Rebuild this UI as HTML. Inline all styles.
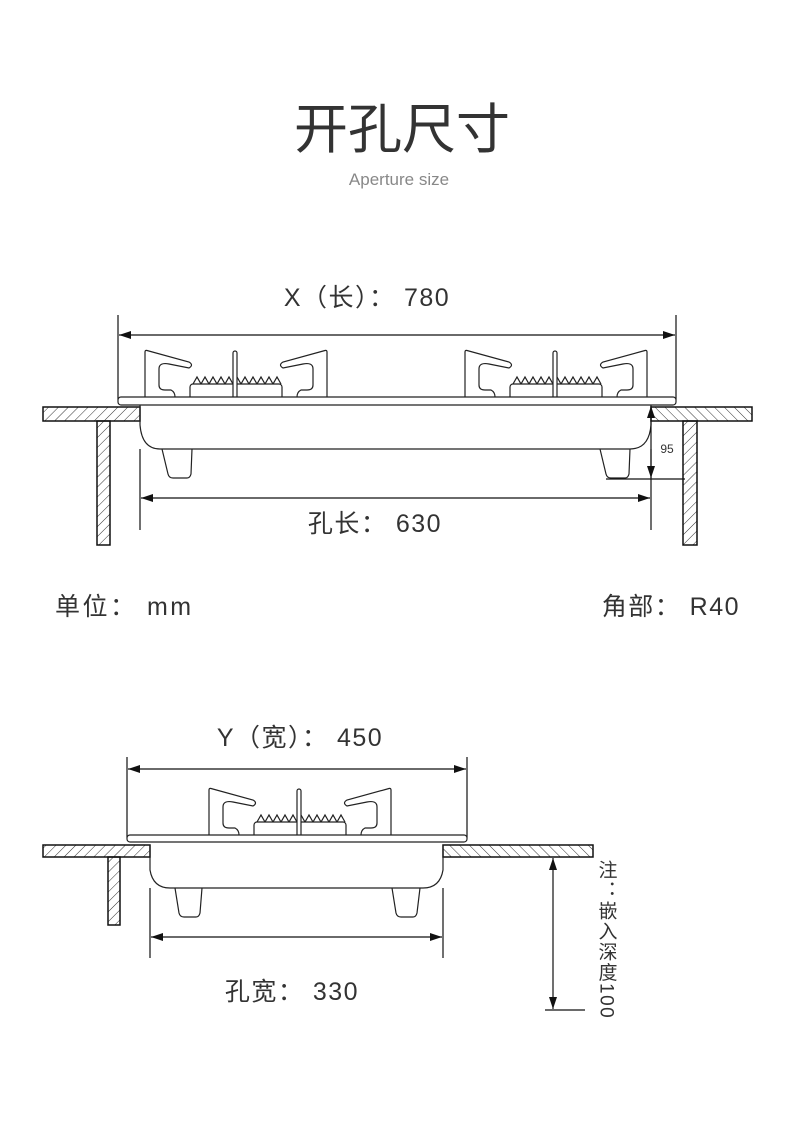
<!DOCTYPE html>
<html><head><meta charset="utf-8"><style>
body{margin:0;background:#fff;}
svg{display:block}
text{font-family:"Liberation Sans","Noto Sans CJK SC",sans-serif;fill:#333}
.t{letter-spacing:1.5px}
</style></head><body>
<svg width="790" height="1137" viewBox="0 0 790 1137" xmlns="http://www.w3.org/2000/svg">
<defs>
<pattern id="h1" width="7" height="7" patternUnits="userSpaceOnUse" patternTransform="rotate(45)"><line x1="0" y1="0" x2="0" y2="7" stroke="#333" stroke-width="1"/></pattern>
<pattern id="h2" width="7" height="7" patternUnits="userSpaceOnUse" patternTransform="rotate(-45)"><line x1="0" y1="0" x2="0" y2="7" stroke="#333" stroke-width="1"/></pattern>
<marker id="a" markerWidth="12" markerHeight="8" refX="12" refY="4" orient="auto" markerUnits="userSpaceOnUse"><path d="M0,0 L12,4 L0,8 Z" fill="#111"/></marker>
<marker id="as" markerWidth="12" markerHeight="8" refX="0" refY="4" orient="auto" markerUnits="userSpaceOnUse"><path d="M12,0 L0,4 L12,8 Z" fill="#111"/></marker>
<g id="burner" fill="none" stroke="#222" stroke-width="1.2">
<path d="M-90,0 L-90,-45 Q-90,-47 -88,-46.5 L-46,-35 Q-41,-32 -46,-29 L-66,-33 Q-76,-35 -76,-28 L-76,-12 Q-76,-7 -70,-7 L-64,-7 Q-60,-5 -60,0"/>
<path d="M92,0 L92,-45 Q92,-47 90,-46.5 L48,-35 Q43,-32 48,-29 L68,-33 Q78,-35 78,-28 L78,-12 Q78,-7 72,-7 L66,-7 Q62,-5 62,0"/>
<path d="M-42,-13 l4,-7 l4,7 l4,-7 l4,7 l4,-7 l4,7 l4,-7 l4,7 l4,-7 l4,7 l4,-7 l4,7 l4,-7 l4,7 l4,-7 l4,7 l4,-7 l4,7 l4,-7 l4,7 l4,-7 l4,7" />
<rect x="-45" y="-13" width="92" height="18" rx="3" fill="#fff"/>
<rect x="-2" y="-46" width="4" height="50" rx="2" fill="#fff"/>
</g>
</defs>

<text x="402" y="148" font-size="54" text-anchor="middle" fill="#222">开孔尺寸</text>
<text x="399" y="185" font-size="17" text-anchor="middle" style="fill:#888">Aperture size</text>

<!-- TOP DIAGRAM -->
<text class="t" x="367" y="306" font-size="25" text-anchor="middle">X（长）： 780</text>
<g stroke="#111" stroke-width="1.2" fill="none">
<line x1="118" y1="315" x2="118" y2="400"/>
<line x1="676" y1="315" x2="676" y2="400"/>
<line x1="119" y1="335" x2="675" y2="335" marker-end="url(#a)" marker-start="url(#as)"/>
</g>
<use href="#burner" x="235" y="397"/>
<use href="#burner" x="555" y="397"/>
<rect x="118" y="397" width="558" height="8" rx="3" fill="#fff" stroke="#222" stroke-width="1.2"/>
<rect x="43" y="407" width="97" height="14" fill="url(#h1)" stroke="#111" stroke-width="1.5"/>
<rect x="651" y="407" width="101" height="14" fill="url(#h2)" stroke="#111" stroke-width="1.5"/>
<rect x="97" y="421" width="13" height="124" fill="url(#h1)" stroke="#111" stroke-width="1.5"/>
<rect x="683" y="421" width="14" height="124" fill="url(#h1)" stroke="#111" stroke-width="1.5"/>
<g stroke="#222" stroke-width="1.2" fill="none">
<path d="M140,405 L140,425 Q142,449 160,449 L630,449 Q649,449 651,425 L651,405"/>
<path d="M162,449 L168,474 Q169,478 173,478 L187,478 Q190,478 191,474 L192,449"/>
<path d="M600,449 L606,474 Q607,478 611,478 L625,478 Q628,478 629,474 L630,449"/>
<line x1="140" y1="449" x2="140" y2="530" stroke="#111"/>
<line x1="651" y1="449" x2="651" y2="530" stroke="#111"/>
<line x1="141" y1="498" x2="650" y2="498" stroke="#111" marker-end="url(#a)" marker-start="url(#as)"/>
<line x1="651" y1="406" x2="651" y2="478" stroke="#111" marker-end="url(#a)" marker-start="url(#as)"/>
<line x1="606" y1="479" x2="685" y2="479" stroke="#111"/>
</g>
<text x="667" y="453" font-size="12" text-anchor="middle">95</text>
<text class="t" x="375" y="532" font-size="25" text-anchor="middle">孔长： 630</text>

<text x="55" y="615" font-size="25" style="letter-spacing:2.5px">单位： mm</text>
<text class="t" x="740" y="615" font-size="25" text-anchor="end">角部： R40</text>

<!-- BOTTOM DIAGRAM -->
<text class="t" x="300" y="746" font-size="25" text-anchor="middle">Y（宽）： 450</text>
<g stroke="#111" stroke-width="1.2" fill="none">
<line x1="127" y1="757" x2="127" y2="838"/>
<line x1="467" y1="757" x2="467" y2="838"/>
<line x1="128" y1="769" x2="466" y2="769" marker-end="url(#a)" marker-start="url(#as)"/>
</g>
<use href="#burner" x="299" y="835"/>
<rect x="127" y="835" width="340" height="7" rx="3" fill="#fff" stroke="#222" stroke-width="1.2"/>
<rect x="43" y="845" width="107" height="12" fill="url(#h1)" stroke="#111" stroke-width="1.5"/>
<rect x="443" y="845" width="150" height="12" fill="url(#h2)" stroke="#111" stroke-width="1.5"/>
<rect x="108" y="857" width="12" height="68" fill="url(#h1)" stroke="#111" stroke-width="1.5"/>
<g stroke="#222" stroke-width="1.2" fill="none">
<path d="M150,845 L150,870 Q153,888 170,888 L423,888 Q440,888 443,870 L443,845"/>
<path d="M175,888 L179,913 Q180,917 184,917 L196,917 Q199,917 200,913 L202,888"/>
<path d="M392,888 L396,913 Q397,917 401,917 L413,917 Q416,917 417,913 L420,888"/>
<line x1="150" y1="888" x2="150" y2="958" stroke="#111"/>
<line x1="443" y1="888" x2="443" y2="958" stroke="#111"/>
<line x1="151" y1="937" x2="442" y2="937" stroke="#111" marker-end="url(#a)" marker-start="url(#as)"/>
<line x1="553" y1="858" x2="553" y2="1009" stroke="#111" marker-end="url(#a)" marker-start="url(#as)"/>
<line x1="545" y1="1010" x2="585" y2="1010" stroke="#111"/>
</g>
<text class="t" x="292" y="1000" font-size="25" text-anchor="middle">孔宽： 330</text>
<text x="606" y="860" font-size="19" style="writing-mode:vertical-rl;letter-spacing:1.5px">注：嵌入深度100</text>
</svg>
</body></html>
